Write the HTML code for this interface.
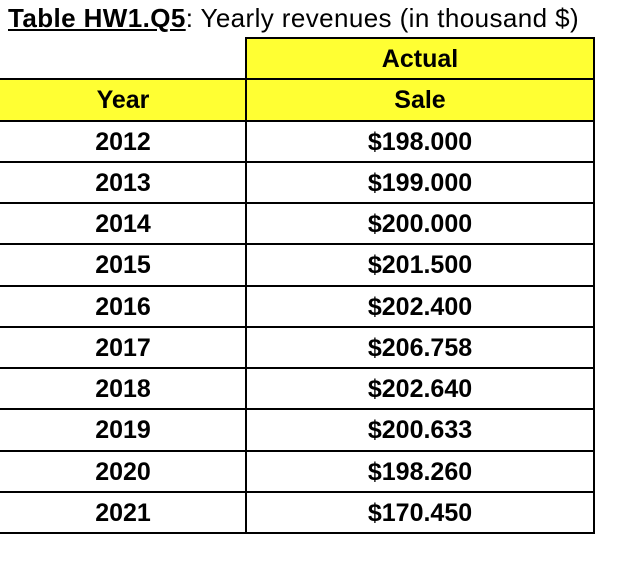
<!DOCTYPE html>
<html><head><meta charset="utf-8"><style>
html,body{margin:0;padding:0;background:#fff;width:622px;height:562px;overflow:hidden}
body{position:relative;font-family:"Liberation Sans",sans-serif}
#title{position:absolute;left:8px;top:3px;font-size:26px;white-space:nowrap;color:#000;letter-spacing:0.4px}
#title u{font-weight:bold}
.cell{position:absolute;box-sizing:border-box;font-weight:bold;font-size:25px;text-align:center;color:#000;display:flex;align-items:center;justify-content:center;padding-top:2px}
.hl{position:absolute;height:2px;background:#000}
.vl{position:absolute;width:2px;background:#000}
</style></head><body>
<div id="title"><u>Table HW1.Q5</u>: Yearly revenues (in thousand $)</div>
<div id="tbl"></div>
<script>
const years=['2012','2013','2014','2015','2016','2017','2018','2019','2020','2021'];
const sales=['$198.000','$199.000','$200.000','$201.500','$202.400','$206.758','$202.640','$200.633','$198.260','$170.450'];
const tbl=document.getElementById('tbl');
const top0=38,rh=41.25,xm=246,xr=594;
function cell(x,y,w,h,txt,bg,name){const d=document.createElement('div');d.className='cell';
d.style.left=x+'px';d.style.top=y+'px';d.style.width=w+'px';d.style.height=h+'px';
if(bg)d.style.background=bg;d.textContent=txt;


tbl.appendChild(d);}
const Y='#ffff33';
cell(xm,top0,xr-xm,rh,'Actual',Y,'actual-header');
cell(0,top0+rh,xm,rh,'Year',Y,'year-header');
cell(xm,top0+rh,xr-xm,rh,'Sale',Y,'sale-header');
years.forEach((y,i)=>{const t=top0+rh*(i+2);
cell(0,t,xm,rh,y,null,'year-'+y);
cell(xm,t,xr-xm,rh,sales[i],null,'sale-'+y);});
function hl(x,y,w){const d=document.createElement('div');d.className='hl';d.style.left=x+'px';d.style.top=(y-1)+'px';d.style.width=w+'px';


tbl.appendChild(d);}
function vl(x,y,h){const d=document.createElement('div');d.className='vl';d.style.left=(x-1)+'px';d.style.top=(y-1)+'px';d.style.height=h+'px';


tbl.appendChild(d);}
hl(xm-1,top0,xr-xm+2);
for(let i=1;i<=12;i++)hl(0,top0+rh*i,xr+1);
const bot=top0+rh*12;
vl(xm,top0,bot-top0+2);
vl(xr,top0,bot-top0+2);
</script>
</body></html>
